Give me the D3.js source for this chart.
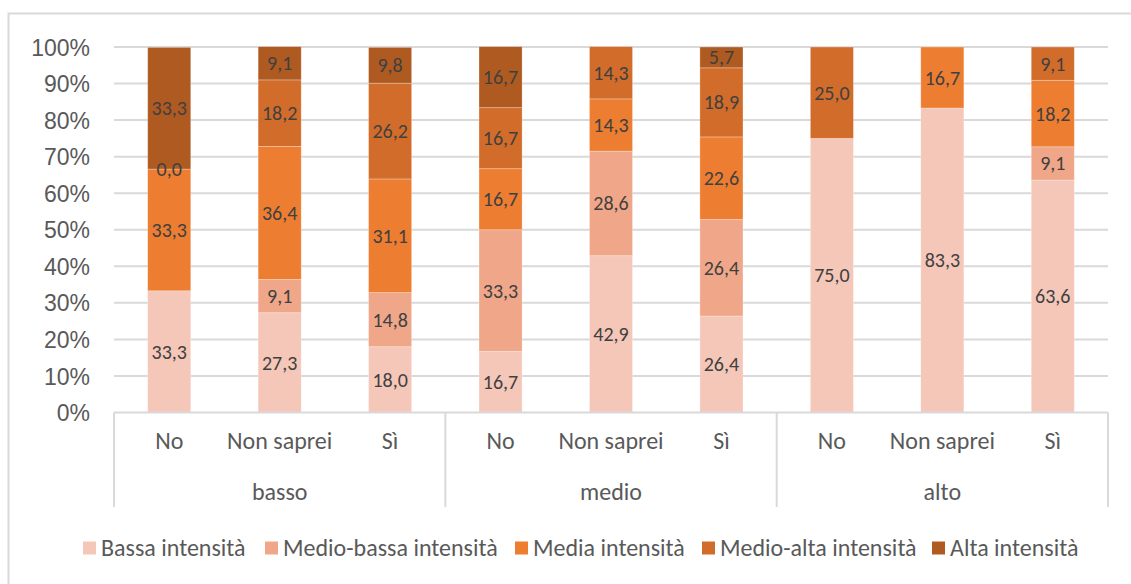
<!DOCTYPE html>
<html>
<head>
<meta charset="utf-8">
<script src="https://cdn.jsdelivr.net/npm/d3@7"></script>
<style>
   body { margin: 0; background: #fff; }
   svg { display: block; }
</style>
</head>
<body>
<div id="chart"></div>
<script>

// GROUPS & CATEGORIES
var groups = ['basso', 'medio', 'alto'];
var answers = ['No', 'Non saprei', 'Sì'];

// SERIES NAMES
var series = ['Bassa intensità', 'Medio-bassa intensità', 'Media intensità', 'Medio-alta intensità', 'Alta intensità'];

// SERIES VALUES -- ONE ENTRY PER BAR (basso No .. alto Sì), NULL = NO LABEL
var bassa      = [33.3, 27.3, 18.0, 16.7, 42.9, 26.4, 75.0, 83.3, 63.6];
var medioBassa = [null, 9.1, 14.8, 33.3, 28.6, 26.4, null, null, 9.1];
var media      = [33.3, 36.4, 31.1, 16.7, 14.3, 22.6, null, 16.7, 18.2];
var medioAlta  = [0.0, 18.2, 26.2, 16.7, 14.3, 18.9, 25.0, null, 9.1];
var alta       = [33.3, 9.1, 9.8, 16.7, null, 5.7, null, null, null];

// Y TICKS
var yTicks = [0, 10, 20, 30, 40, 50, 60, 70, 80, 90, 100];

// COLORS
var colors = ['#F5C7B9', '#F0A789', '#ED7D31', '#D26C2A', '#AF5A21'];

// SETTINGS
var settings = {
   width: 1131,
   height: 584,
   left: 114,
   right: 1108,
   top: 47,
   bottom: 412.5,
   font: 'Carlito, Calibri, Lato, sans-serif'
};

// BUILD BAR ROWS
var seriesValues = [bassa, medioBassa, media, medioAlta, alta];
var bars = [];
groups.forEach((g, gi) => {
   answers.forEach((a, ai) => {
      var idx = gi * answers.length + ai;
      var row = { key: g + '|' + a, group: g, answer: a };
      series.forEach((s, si) => { row[s] = seriesValues[si][idx]; });
      bars.push(row);
   });
});

// STACK
var stack = d3.stack()
   .keys(series)
   .value((d, key) => d[key] == null ? 0 : d[key]);
var stacked = stack(bars);

// SCALES
var xScale = d3.scaleBand()
   .domain(bars.map(d => d.key))
   .range([settings.left, settings.right])
   .paddingInner(0.61)
   .paddingOuter(0.305);

var yScale = d3.scaleLinear()
   .domain([0, 100])
   .range([settings.bottom, settings.top]);

var groupScale = d3.scaleBand()
   .domain(groups)
   .range([settings.left, settings.right]);

// CANVAS
var svg = d3.select('#chart').append('svg')
   .attr('width', settings.width)
   .attr('height', settings.height);

// OUTER BORDER
svg.append('rect')
   .attr('x', 8.5)
   .attr('y', 13.5)
   .attr('width', 1140)
   .attr('height', 600)
   .attr('fill', 'none')
   .attr('stroke', '#D9D9D9')
   .attr('stroke-width', 2);

// GRIDLINES
svg.append('g')
   .selectAll('line')
   .data(yTicks.filter(t => t > 0))
   .enter().append('line')
      .attr('x1', settings.left)
      .attr('x2', settings.right)
      .attr('y1', d => yScale(d))
      .attr('y2', d => yScale(d))
      .attr('stroke', '#D9D9D9')
      .attr('stroke-width', 2);

// Y AXIS LABELS
var yAxis = d3.axisLeft(yScale)
   .tickValues(yTicks)
   .tickFormat(d => d + '%')
   .tickSize(0)
   .tickPadding(20);

var yg = svg.append('g')
   .attr('transform', 'translate(' + (settings.left - 4) + ',0)')
   .call(yAxis);
yg.select('.domain').remove();
yg.selectAll('text')
   .attr('font-family', '"Liberation Sans", Arial, sans-serif')
   .attr('font-size', 23)
   .attr('fill', '#595959')
   .attr('dy', '0.35em');

// BARS
stacked.forEach((layer, li) => {
   svg.append('g')
      .selectAll('rect')
      .data(layer)
      .enter().append('rect')
         .attr('x', d => xScale(d.data.key))
         .attr('y', d => yScale(d[1]))
         .attr('width', xScale.bandwidth())
         .attr('height', d => yScale(d[0]) - yScale(d[1]))
         .attr('fill', colors[li])
         .attr('stroke', '#fff')
         .attr('stroke-opacity', 0.35)
         .attr('stroke-width', 0.8);
});

// DATA LABELS
stacked.forEach((layer, li) => {
   svg.append('g')
      .selectAll('text')
      .data(layer.filter(d => d.data[layer.key] != null))
      .enter().append('text')
         .attr('x', d => xScale(d.data.key) + xScale.bandwidth() / 2)
         .attr('y', d => yScale((d[0] + d[1]) / 2))
         .attr('dy', '0.35em')
         .attr('text-anchor', 'middle')
         .attr('font-family', settings.font)
         .attr('font-size', 20)
         .attr('fill', '#404040')
         .text(d => d3.format('.1f')(d.data[layer.key]).replace('.', ','));
});

// CATEGORY AXIS LINE
svg.append('line')
   .attr('x1', settings.left)
   .attr('x2', settings.right)
   .attr('y1', settings.bottom)
   .attr('y2', settings.bottom)
   .attr('stroke', '#D9D9D9')
   .attr('stroke-width', 2);

// GROUP SEPARATORS
var sepX = groups.map(g => groupScale(g)).concat([settings.right]);
svg.append('g')
   .selectAll('line')
   .data(sepX)
   .enter().append('line')
      .attr('x1', d => d)
      .attr('x2', d => d)
      .attr('y1', settings.bottom)
      .attr('y2', 507)
      .attr('stroke', '#D9D9D9')
      .attr('stroke-width', 2);

// ANSWER LABELS
svg.append('g')
   .selectAll('text')
   .data(bars)
   .enter().append('text')
      .attr('x', d => xScale(d.key) + xScale.bandwidth() / 2)
      .attr('y', 441)
      .attr('dy', '0.35em')
      .attr('text-anchor', 'middle')
      .attr('font-family', settings.font)
      .attr('font-size', 24)
      .attr('fill', '#595959')
      .text(d => d.answer);

// GROUP LABELS
svg.append('g')
   .selectAll('text')
   .data(groups)
   .enter().append('text')
      .attr('x', d => groupScale(d) + groupScale.bandwidth() / 2)
      .attr('y', 492)
      .attr('dy', '0.35em')
      .attr('text-anchor', 'middle')
      .attr('font-family', settings.font)
      .attr('font-size', 24)
      .attr('fill', '#595959')
      .text(d => d);

// LEGEND
var legendX = [83, 265, 515, 702, 932];
var legend = svg.append('g')
   .selectAll('g')
   .data(series)
   .enter().append('g')
      .attr('transform', (d, i) => 'translate(' + legendX[i] + ',548)');

legend.append('rect')
   .attr('x', 0)
   .attr('y', -6.5)
   .attr('width', 13)
   .attr('height', 13)
   .attr('fill', (d, i) => colors[i]);

legend.append('text')
   .attr('x', 18)
   .attr('y', 0)
   .attr('dy', '0.35em')
   .attr('font-family', settings.font)
   .attr('font-size', 24)
   .attr('fill', '#595959')
   .text(d => d);

</script>
</body>
</html>
